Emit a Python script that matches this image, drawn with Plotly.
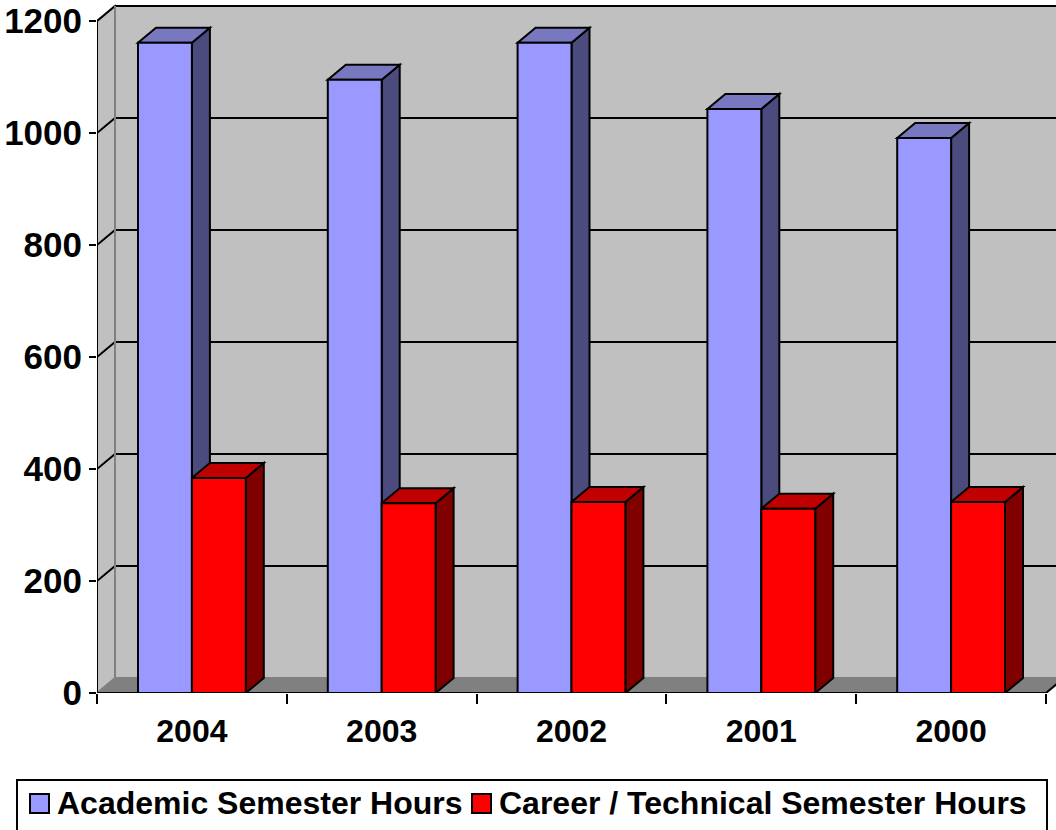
#!/usr/bin/env python
"""3D-style clustered column chart: semester hours by year."""

import plotly.graph_objects as go

# data
years = ["2004", "2003", "2002", "2001", "2000"]
series_names = ["Academic Semester Hours", "Career / Technical Semester Hours"]
academic = [1161, 1095, 1161, 1043, 991]
career = [384, 339, 341, 329, 341]
y_ticks = [0, 200, 400, 600, 800, 1000, 1200]

# colours: front, top, side
ACAD = ("#9999FF", "#7878C0", "#4B4B7D")
CAREER = ("#FF0000", "#C00000", "#800000")
WALL = "#C0C0C0"
FLOOR = "#808080"

FONT = dict(family="Arial, Liberation Sans, sans-serif", size=32, color="black", weight="bold")
YFONT = dict(FONT, size=35)

W, H = 1056, 830
ML, MR, MT, MB = 97, 0, 4, 137
PX_PER_CAT = 189.8
PX_PER_UNIT = 0.56
X0 = -0.5
X_MAX = X0 + (W - ML - MR) / PX_PER_CAT
Y_MAX = (H - MT - MB) / PX_PER_UNIT
DX = 18 / PX_PER_CAT   # depth offset in category units
DY = 15 / PX_PER_UNIT  # depth offset in value units
BW = 0.284             # bar width
X_END = X0 + len(years)


def poly(pts, fill, line="black", lw=2):
    path = "M" + " L".join(f"{x},{y}" for x, y in pts) + " Z"
    return dict(type="path", path=path, xref="x", yref="y", fillcolor=fill,
                line=dict(color=line, width=lw), layer="below")


def seg(x0, y0, x1, y1, color="black", lw=2):
    return dict(type="line", x0=x0, y0=y0, x1=x1, y1=y1, xref="x", yref="y",
                line=dict(color=color, width=lw), layer="below")


def main():
    shapes = []
    # walls and floor
    shapes.append(poly([(X0 + DX, DY), (X_MAX + 1, DY), (X_MAX + 1, y_ticks[-1] + DY),
                        (X0 + DX, y_ticks[-1] + DY)], WALL, FLOOR, 2))
    shapes.append(poly([(X0, 0), (X0, y_ticks[-1]), (X0 + DX, y_ticks[-1] + DY),
                        (X0 + DX, DY)], WALL, FLOOR, 2))
    shapes.append(poly([(X0, 0), (X_END, 0), (X_END + DX, DY), (X0 + DX, DY)], FLOOR, FLOOR, 1))
    # gridlines on back and side walls
    for v in y_ticks[1:]:
        shapes.append(seg(X0 + DX, v + DY, X_MAX + 1, v + DY))
        shapes.append(seg(X0, v, X0 + DX, v + DY))
    shapes.append(seg(X0 + DX, DY, X0 + DX, y_ticks[-1] + DY, FLOOR, 2))
    # axis lines
    shapes.append(seg(X0, 0, X0, y_ticks[-1]))
    shapes.append(seg(X0, 0, X_END, 0))
    shapes.append(seg(X_END, 0, X_END + DX, DY))

    # bar top and side faces
    for i in range(len(years)):
        for vals, off, cols in ((academic, -BW, ACAD), (career, 0, CAREER)):
            v = vals[i]
            xa, xb = i + off, i + off + BW
            shapes.append(poly([(xb, 0), (xb, v), (xb + DX, v + DY), (xb + DX, DY)], cols[2]))
            shapes.append(poly([(xa, v), (xb, v), (xb + DX, v + DY), (xa + DX, v + DY)], cols[1]))

    fig = go.Figure()
    xs = list(range(len(years)))
    for name, vals, off, cols in ((series_names[0], academic, -BW / 2, ACAD),
                                  (series_names[1], career, BW / 2, CAREER)):
        fig.add_trace(go.Bar(
            x=[x + off for x in xs], y=vals, width=BW, name=name,
            marker=dict(color=cols[0], line=dict(color="black", width=2)),
            showlegend=False,
        ))

    # legend (drawn by hand, Excel style)
    def px(x):
        return (x - ML) / (W - ML - MR)

    def py(y):
        return (H - MB - y) / (H - MT - MB)

    annotations = []
    shapes.append(dict(type="rect", xref="paper", yref="paper", x0=px(17), x1=px(1047),
                       y0=py(780), y1=py(832), line=dict(color="black", width=2),
                       fillcolor="white"))
    for name, cols, sx in ((series_names[0], ACAD, 30), (series_names[1], CAREER, 472)):
        shapes.append(dict(type="rect", xref="paper", yref="paper", x0=px(sx), x1=px(sx + 19),
                           y0=py(813), y1=py(794), line=dict(color="black", width=2),
                           fillcolor=cols[0]))
        annotations.append(dict(text=name, xref="paper", yref="paper", x=px(sx + 25), y=py(803),
                                xanchor="left", yanchor="middle", showarrow=False, font=FONT))

    fig.update_layout(
        width=W, height=H,
        margin=dict(l=ML, r=MR, t=MT, b=MB),
        paper_bgcolor="white", plot_bgcolor="white",
        barmode="overlay",
        shapes=shapes, annotations=annotations,
        xaxis=dict(range=[X0, X_MAX], tickmode="array", tickvals=xs, ticktext=years,
                   ticks="", showgrid=False, zeroline=False, showline=False,
                   tickfont=FONT, ticklabelstandoff=16,
                   minor=dict(tickmode="array", tickvals=[X0 + k for k in range(len(years) + 1)],
                              ticks="outside", ticklen=10, tickwidth=2, tickcolor="black",
                              showgrid=False)),
        yaxis=dict(range=[0, Y_MAX], tickmode="array", tickvals=y_ticks,
                   ticks="outside", ticklen=7, tickwidth=2, tickcolor="black",
                   showgrid=False, zeroline=False, showline=False, tickfont=YFONT),
        showlegend=False,
    )
    fig.write_html(
        "out.html",
        config={"displayModeBar": False},
        post_script="document.body.style.margin='0';document.body.style.overflow='hidden';",
    )


if __name__ == "__main__":
    main()
